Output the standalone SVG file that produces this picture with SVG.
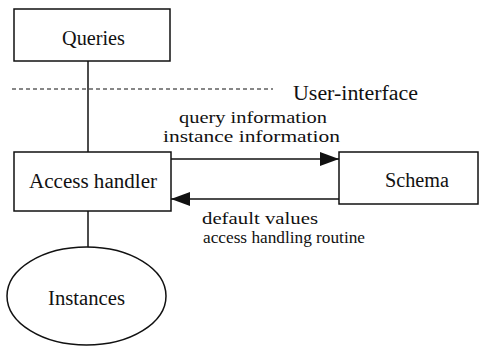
<svg xmlns="http://www.w3.org/2000/svg" width="493" height="347" viewBox="0 0 493 347">
  <style>
    .box { fill: #ffffff; stroke: #111111; stroke-width: 1.5; }
    .line { fill: none; stroke: #111111; stroke-width: 1.5; }
    .dash { fill: none; stroke: #111111; stroke-width: 1.2; stroke-dasharray: 4 3; }
    text { font-family: "Liberation Serif", "Times New Roman", serif; font-size: 20px; fill: #111111; }
    .lbl { font-size: 17px; }
  </style>
  <defs>
    <marker id="arrow" viewBox="0 0 19 14" refX="19" refY="7" markerWidth="19" markerHeight="14" markerUnits="userSpaceOnUse" orient="auto">
      <path d="M0,0 L19,7 L0,14 Z" fill="#111111"/>
    </marker>
  </defs>
  <rect width="493" height="347" fill="#ffffff"/>

  <!-- connectors -->
  <g id="connectors">
    <line class="line" x1="88" y1="61" x2="88" y2="152"/>
    <line class="line" x1="88" y1="211" x2="88" y2="248"/>
    <line class="dash" x1="12" y1="89" x2="273" y2="89"/>
    <line class="line" x1="171" y1="159" x2="339" y2="159" marker-end="url(#arrow)"/>
    <line class="line" x1="339" y1="199" x2="171" y2="199" marker-end="url(#arrow)"/>
    <text class="lbl" x="179" y="123" textLength="148" lengthAdjust="spacingAndGlyphs">query information</text>
    <text class="lbl" x="163" y="142" textLength="177" lengthAdjust="spacingAndGlyphs">instance information</text>
    <text class="lbl" x="202" y="224" textLength="116" lengthAdjust="spacingAndGlyphs">default values</text>
    <text class="lbl" x="203" y="243" textLength="162" lengthAdjust="spacingAndGlyphs">access handling routine</text>
  </g>

  <!-- boundary label -->
  <g id="user-interface">
    <text x="293" y="100" textLength="125" lengthAdjust="spacingAndGlyphs">User-interface</text>
  </g>

  <g id="queries">
    <rect class="box" x="14" y="9" width="156" height="52"/>
    <text x="62" y="45" textLength="63" lengthAdjust="spacingAndGlyphs">Queries</text>
  </g>

  <g id="access-handler">
    <rect class="box" x="14" y="152" width="157" height="59"/>
    <text x="29" y="188" textLength="128" lengthAdjust="spacingAndGlyphs">Access handler</text>
  </g>

  <g id="schema">
    <rect class="box" x="339" y="152" width="139" height="52"/>
    <text x="385" y="187" textLength="64" lengthAdjust="spacingAndGlyphs">Schema</text>
  </g>

  <g id="instances">
    <ellipse class="box" cx="86.5" cy="296" rx="79.5" ry="49"/>
    <text x="48" y="305" textLength="77" lengthAdjust="spacingAndGlyphs">Instances</text>
  </g>
</svg>
